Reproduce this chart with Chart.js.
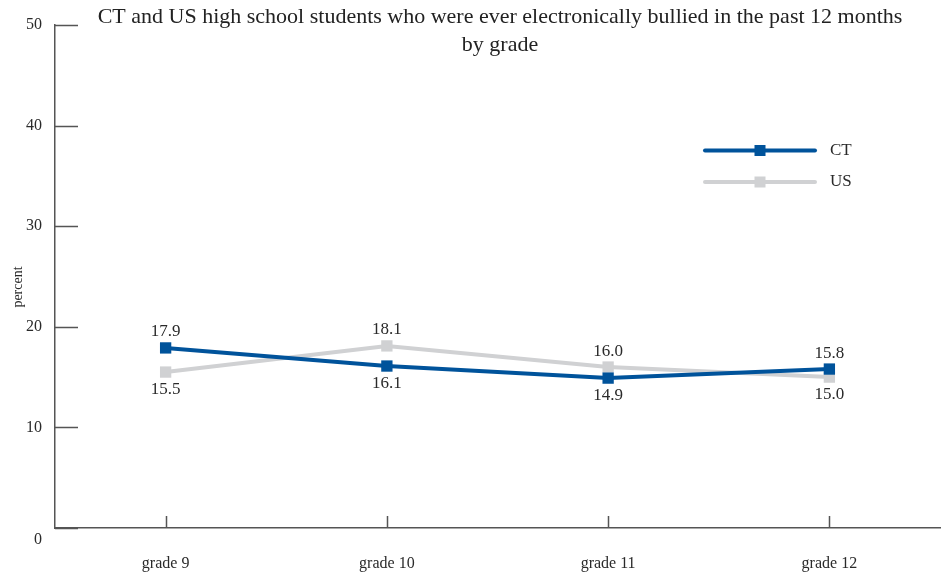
<!DOCTYPE html>
<html>
<head>
<meta charset="utf-8">
<script src="https://cdn.jsdelivr.net/npm/chart.js@4.4.1/dist/chart.umd.min.js"></script>
<style>
  html, body { margin: 0; padding: 0; background: #ffffff; }
  #wrap { width: 948px; height: 573px; }
</style>
</head>
<body>
<div id="wrap"><canvas id="c" width="948" height="573"></canvas></div>
<script>
const categories = ['grade 9', 'grade 10', 'grade 11', 'grade 12'];
const ctValues = [17.9, 16.1, 14.9, 15.8];
const usValues = [15.5, 18.1, 16.0, 15.0];
const seriesNames = ['CT', 'US'];
const yTicks = [0, 10, 20, 30, 40, 50];
const titleLines = ['CT and US high school students who were ever electronically bullied in the past 12 months', 'by grade'];
const yAxisTitle = 'percent';

const SERIF = "'Liberation Serif', 'DejaVu Serif', serif";
const CT_COLOR = '#00539b';
const US_COLOR = '#d0d1d3';
const AXIS_COLOR = '#555555';
const TEXT_COLOR = '#2a2a2a';

const titlePlugin = {
  id: 'titlePlugin',
  afterDraw(chart) {
    const ctx = chart.ctx;
    ctx.save();
    ctx.font = '22px ' + SERIF;
    ctx.fillStyle = '#222222';
    ctx.textAlign = 'center';
    ctx.textBaseline = 'middle';
    const cx = 500;
    titleLines.forEach((t, i) => ctx.fillText(t, cx, 17 + i * 28));
    // rotated y-axis title
    ctx.font = '14px ' + SERIF;
    ctx.fillStyle = TEXT_COLOR;
    ctx.translate(18, 287);
    ctx.rotate(-Math.PI / 2);
    ctx.fillText(yAxisTitle, 0, 0);
    ctx.restore();
  }
};

const tickMarks = {
  id: 'tickMarks',
  afterDraw(chart) {
    const ctx = chart.ctx;
    const a = chart.chartArea;
    const ys = chart.scales.y, xs = chart.scales.x;
    ctx.save();
    ctx.strokeStyle = AXIS_COLOR;
    ctx.lineWidth = 1.5;
    ctx.beginPath();
    yTicks.forEach(v => {
      const py = Math.round(ys.getPixelForValue(v)) + 0.5;
      ctx.moveTo(a.left, py);
      ctx.lineTo(a.left + 23, py);
    });
    categories.forEach((c, i) => {
      const px = Math.round(xs.getPixelForValue(i)) + 0.5;
      ctx.moveTo(px, a.bottom);
      ctx.lineTo(px, a.bottom - 12);
    });
    ctx.stroke();
    // the zero label sits a little below the axis in the original
    ctx.font = '16px ' + SERIF;
    ctx.fillStyle = TEXT_COLOR;
    ctx.textAlign = 'right';
    ctx.textBaseline = 'middle';
    ctx.fillText(String(yTicks[0]), a.left - 13, ys.getPixelForValue(yTicks[0]) + 12);
    ctx.restore();
  }
};

const valueLabels = {
  id: 'valueLabels',
  afterDatasetsDraw(chart) {
    const ctx = chart.ctx;
    const ds = chart.data.datasets;
    ctx.save();
    ctx.font = '17px ' + SERIF;
    ctx.fillStyle = TEXT_COLOR;
    ctx.textAlign = 'center';
    ctx.textBaseline = 'middle';
    ds.forEach((d, i) => {
      const other = ds[1 - i];
      const meta = chart.getDatasetMeta(i);
      meta.data.forEach((pt, k) => {
        const above = d.data[k] >= other.data[k];
        const y = above ? pt.y - 16 : pt.y + 17;
        ctx.fillText(d.data[k].toFixed(1), pt.x, y);
      });
    });
    ctx.restore();
  }
};

const customLegend = {
  id: 'customLegend',
  afterDraw(chart) {
    const ctx = chart.ctx;
    ctx.save();
    chart.data.datasets.forEach((d, i) => {
      const y = 150.5 + i * 31.5;
      ctx.strokeStyle = d.borderColor;
      ctx.lineWidth = 4;
      ctx.lineCap = 'round';
      ctx.beginPath();
      ctx.moveTo(705, y);
      ctx.lineTo(815, y);
      ctx.stroke();
      ctx.fillStyle = d.borderColor;
      ctx.fillRect(760 - 5.5, y - 5.5, 11, 11);
      ctx.font = '17px ' + SERIF;
      ctx.fillStyle = TEXT_COLOR;
      ctx.textAlign = 'left';
      ctx.textBaseline = 'middle';
      ctx.fillText(d.label, 830, y);
    });
    ctx.restore();
  }
};

new Chart(document.getElementById('c'), {
  type: 'line',
  data: {
    labels: categories,
    datasets: [
      {
        label: seriesNames[0],
        data: ctValues,
        borderColor: CT_COLOR,
        backgroundColor: CT_COLOR,
        borderWidth: 4,
        pointStyle: 'rect',
        pointRadius: 8,
        pointHoverRadius: 8,
        pointBorderWidth: 0,
        tension: 0,
        order: 0
      },
      {
        label: seriesNames[1],
        data: usValues,
        borderColor: US_COLOR,
        backgroundColor: US_COLOR,
        borderWidth: 4,
        pointStyle: 'rect',
        pointRadius: 8,
        pointHoverRadius: 8,
        pointBorderWidth: 0,
        tension: 0,
        order: 1
      }
    ]
  },
  options: {
    responsive: false,
    devicePixelRatio: 1,
    animation: false,
    layout: { padding: { top: 25, right: 8, left: 0, bottom: 0 } },
    plugins: {
      legend: { display: false },
      title: { display: false },
      tooltip: { enabled: false }
    },
    scales: {
      x: {
        offset: true,
        grid: { display: false, drawTicks: false },
        border: { display: true, color: AXIS_COLOR, width: 1.5 },
        ticks: {
          padding: 26,
          color: TEXT_COLOR,
          font: { family: SERIF, size: 16 }
        },
        afterFit(scale) { scale.height = 45; }
      },
      y: {
        min: 0,
        max: 50,
        afterBuildTicks(scale) { scale.ticks = yTicks.map(v => ({ value: v })); },
        grid: { display: false, drawTicks: false },
        border: { display: true, color: AXIS_COLOR, width: 1.5 },
        ticks: {
          padding: 13,
          color: (c) => (c.tick && c.tick.value === yTicks[0]) ? 'rgba(0,0,0,0)' : TEXT_COLOR,
          font: { family: SERIF, size: 16 }
        },
        title: { display: false },
        afterFit(scale) { scale.width = 55; }
      }
    }
  },
  plugins: [tickMarks, valueLabels, customLegend, titlePlugin]
});
</script>
</body>
</html>
